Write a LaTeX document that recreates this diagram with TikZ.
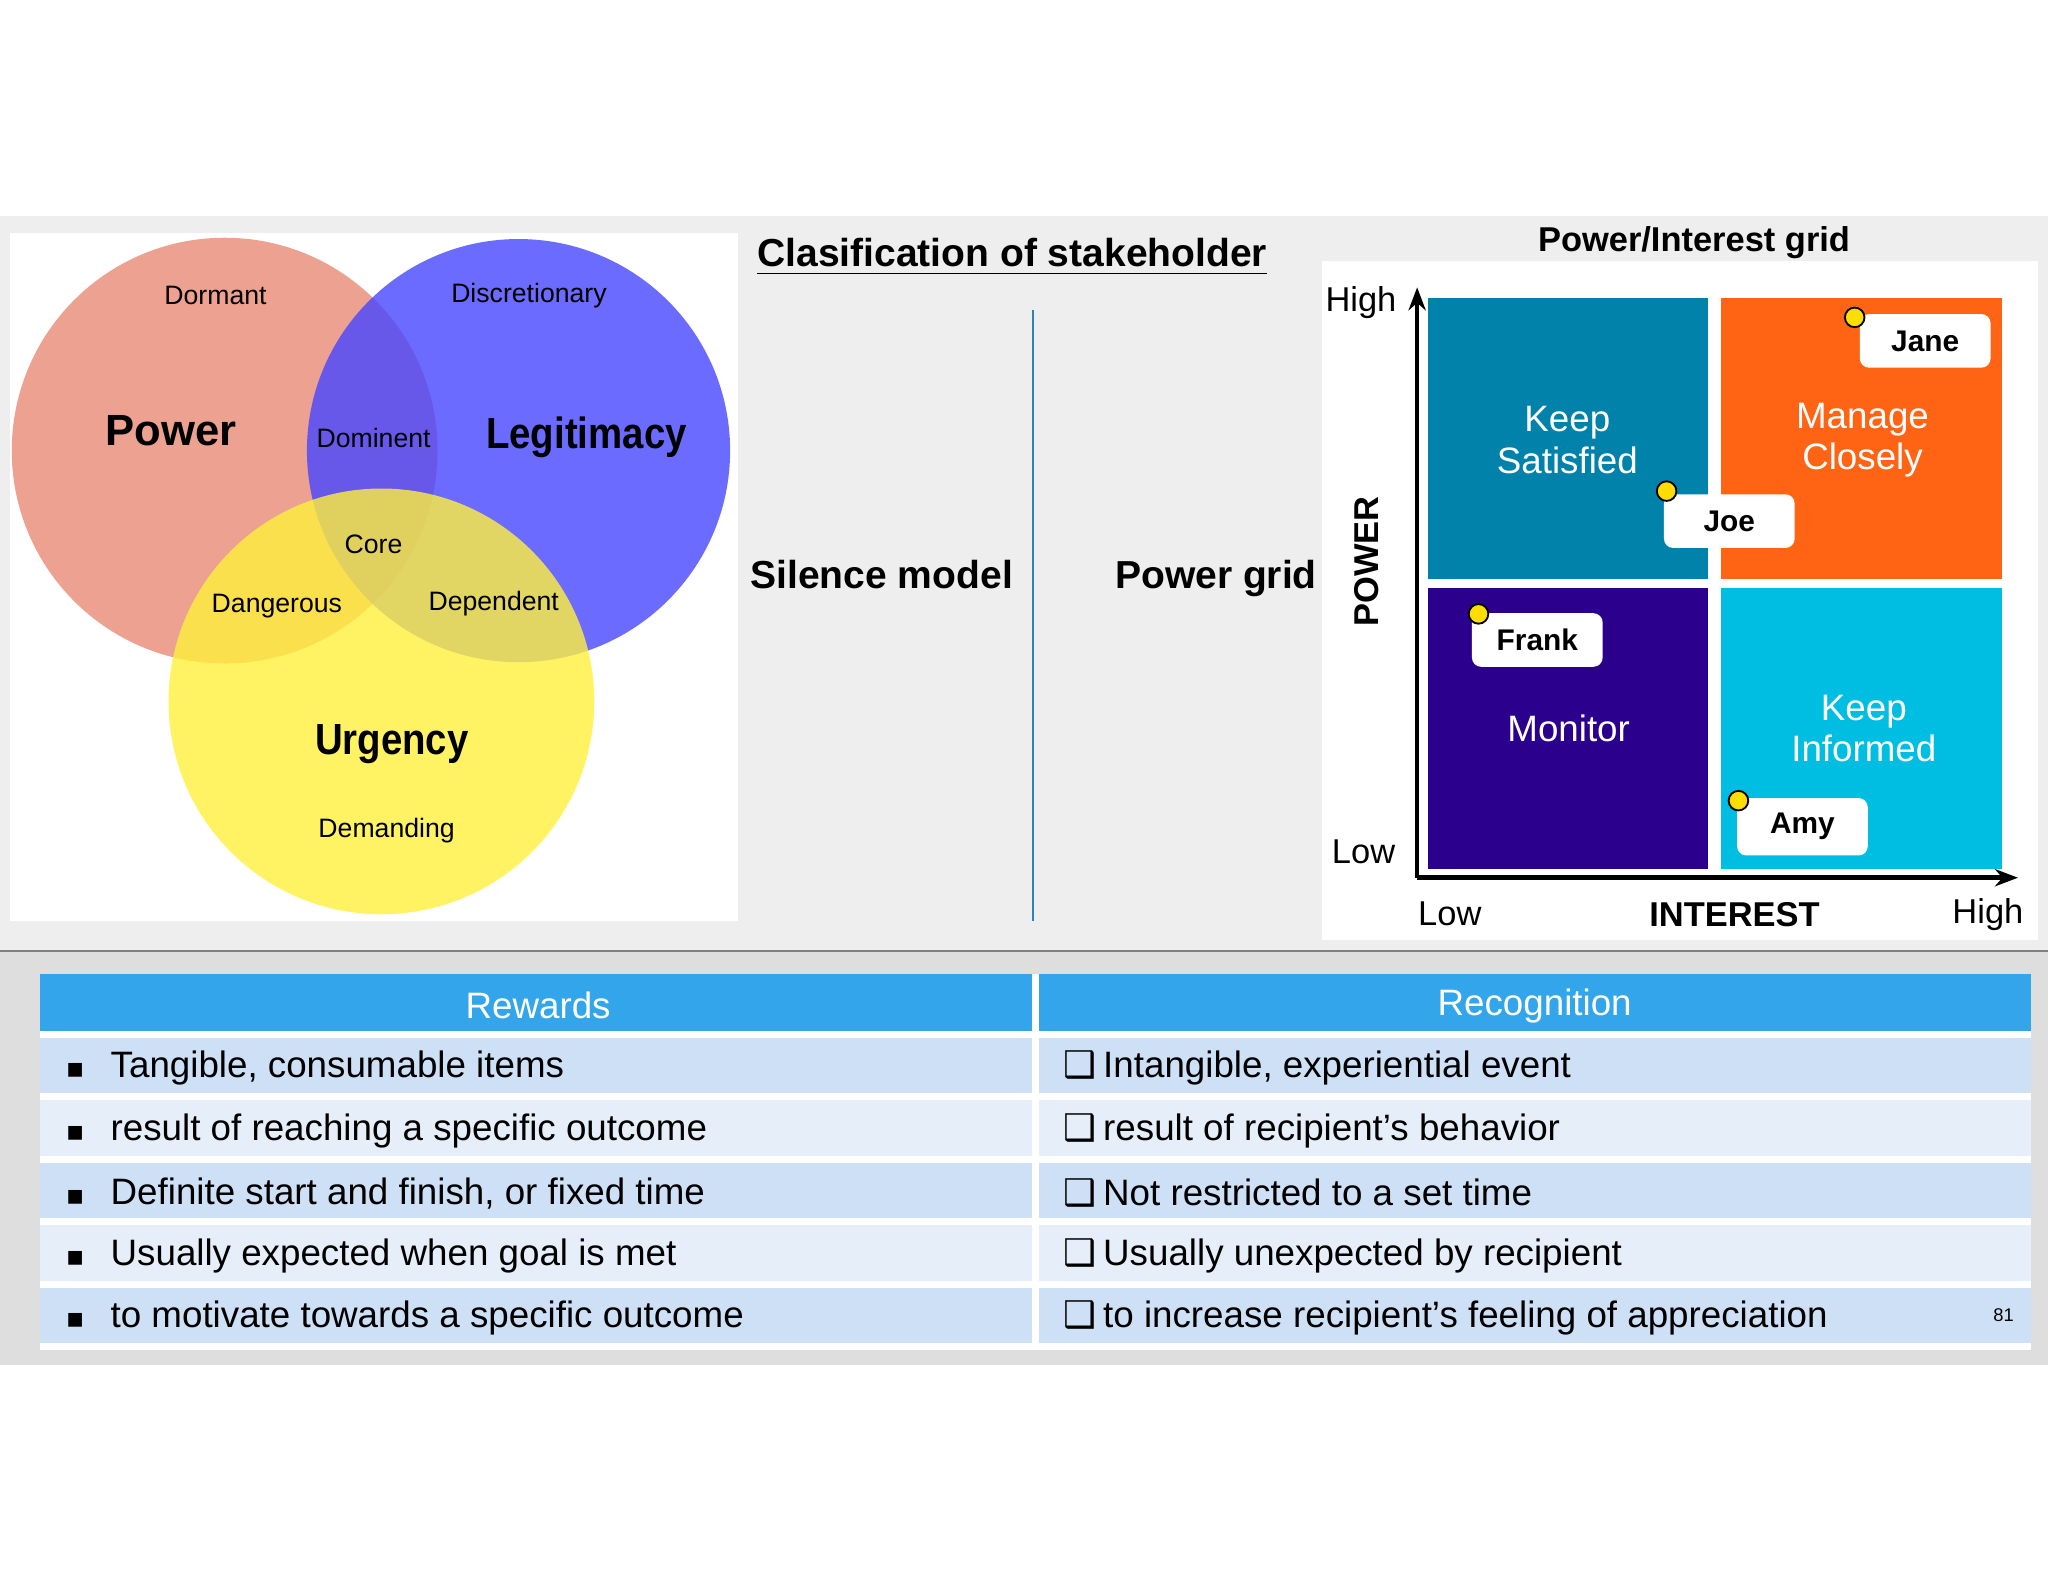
\documentclass[tikz,border=0pt]{standalone}
\usepackage{fontspec}
\setmainfont{Liberation Sans}
\newfontfamily\symfont{DejaVu Sans}
\usetikzlibrary{positioning,arrows.meta}
\definecolor{colorpower}   {RGB}{232,138,118}
\definecolor{colorlegit}   {RGB}{70 ,70 ,255}
\definecolor{colorurgent}  {RGB}{255,240,60 }
\definecolor{colorteal}    {RGB}{0  ,130,170}
\definecolor{colororange}  {RGB}{255,100,20 }
\definecolor{colorindigo}  {RGB}{42 ,0  ,140}
\definecolor{colorcyan}    {RGB}{0  ,190,225}
\definecolor{colorhead}    {RGB}{51 ,165,235}
\definecolor{colorrowa}    {RGB}{205,224,246}
\definecolor{colorrowb}    {RGB}{230,238,250}
\definecolor{colorslide}   {RGB}{222,222,222}

\begin{document}
\begin{tikzpicture}[
    x=0.01cm, y=-0.01cm,
    circ/.style={fill opacity=0.8,draw=none},
    venn/.style={font={\fontsize{5.8}{7}\selectfont}},
    big/.style={font={\fontsize{9.5}{11}\selectfont\bfseries}},
    quad/.style={text=white,align=center,font={\fontsize{8}{9}\selectfont}},
    tag/.style={fill=white,rounded corners=2pt,minimum width=1cm,minimum height=0.41cm,
        font={\fontsize{6.5}{7}\selectfont\bfseries}},
    dot/.style={circle,fill=yellow!80!orange,draw=black,inner sep=0pt,minimum size=0.15cm},
    axis/.style={font={\fontsize{7.5}{8}\selectfont}},
    cell/.style={anchor=west,font={\fontsize{8}{9}\selectfont}},
    head/.style={text=white,font={\fontsize{8}{9}\selectfont}},
]
    \useasboundingbox (0,0) rectangle (1568,1211);
    % slide background
    \fill[colorslide!50] (0,165) rectangle (1568,728);
    \fill[colorslide] (0,728) rectangle (1568,1045);
    \draw[gray] (0,728) -- (1568,728);

    % Venn of stakeholders
    \fill[white] (8,178) rectangle (565,705);
    \fill[colorpower,circ] (172,345) circle (163);
    \fill[colorlegit,circ] (397,345) circle (162);
    \fill[colorurgent,circ] (292,537) circle (163);
    \node[venn] (dormant) at (165,226) {Dormant};
    \node[venn] (discretionary) at (405,226) {Discretionary};
    \node[big] (power) at (131,330) {Power};
    \node[venn] (dominent) at (286,335) {Dominent};
    \node[big,xscale=0.88] (legitimacy) at (449,335) {Legitimacy};
    \node[venn] (core) at (286,417) {Core};
    \node[venn] (dangerous) at (212,464) {Dangerous};
    \node[venn] (dependent) at (378,462) {Dependent};
    \node[big,xscale=0.88] (urgency) at (300,570) {Urgency};
    \node[venn] (demanding) at (296,636) {Demanding};

    % middle
    \node[font={\fontsize{8.5}{9}\selectfont\bfseries}] (title) at (775,197) {\underline{Clasification of stakeholder}};
    \node[font={\fontsize{8.5}{9}\selectfont\bfseries}] (silence) at (675,440) {Silence model};
    \node[font={\fontsize{8.5}{9}\selectfont\bfseries}] (pgrid) at (931,443) {Power grid};
    \draw[colorhead!80!black,thin] (791,237) -- (791,705);

    % power/interest grid
    \fill[white] (1012,200) rectangle (1560,720);
    \fill[colorteal] (1093,228) rectangle (1308,443);
    \fill[colororange] (1318,228) rectangle (1533,443);
    \fill[colorindigo] (1093,450) rectangle (1308,665);
    \fill[colorcyan] (1318,450) rectangle (1533,665);
    \node[quad] (keepsat) at (1200,337) {Keep\\Satisfied};
    \node[quad] (manage) at (1426,337) {Manage\\Closely};
    \node[quad] (monitor) at (1201,558) {Monitor};
    \node[quad] (keepinf) at (1427,558) {Keep\\Informed};
    \coordinate (origin) at (1085,672);
    \coordinate (ytop) at (1085,220);
    \coordinate (xend) at (1545,672);
    \draw[-{Stealth[length=5pt]},line width=1pt] (origin) -- (ytop);
    \draw[-{Stealth[length=5pt]},line width=1pt] (origin) -- (xend);
    \node[font={\fontsize{7.5}{8}\selectfont\bfseries}] (gtitle) at (1297,186) {Power/Interest grid};
    \node[axis] (yhigh) at (1042,232) {High};
    \node[axis] (ylow) at (1044,652) {Low};
    \node[axis] (xlow) at (1110,700) {Low};
    \node[axis,font={\fontsize{7.5}{8}\selectfont\bfseries}] (interest) at (1328,700) {INTEREST};
    \node[axis] (xhigh) at (1522,700) {High};
    \node[axis,font={\fontsize{7.5}{8}\selectfont\bfseries},rotate=90] (powerax) at (1046,430) {POWER};
    \node[tag] (jane) at (1474,261) {Jane};
    \node[tag] (joe) at (1324,399) {Joe};
    \node[tag] (frank) at (1177,490) {Frank};
    \node[tag] (amy) at (1380,633) {Amy};
    \node[dot] at (1420,243) {};
    \node[dot] at (1276,376) {};
    \node[dot] at (1132,470) {};
    \node[dot] at (1331,613) {};

    % rewards vs recognition table
    \fill[colorhead] (31,746) rectangle (1555,792);
    \foreach \i/\c in {0/colorrowa,1/colorrowb,2/colorrowa,3/colorrowb,4/colorrowa}
        \fill[\c] (31,{792+\i*47.8}) rectangle (1555,{792+(\i+1)*47.8});
    \foreach \i in {0,...,5}
        \draw[white,line width=1.5pt] (31,{792+\i*47.8}) -- (1555,{792+\i*47.8});
    \draw[white,line width=1.5pt] (793,746) -- (793,1031);
    \node[head] (rewards) at (412,770) {Rewards};
    \node[head] (recognition) at (1175,770) {Recognition};
    \foreach \i/\left/\right in {
        0/{Tangible, consumable items}/{Intangible, experiential event},
        1/{result of reaching a specific outcome}/{result of recipient’s behavior},
        2/{Definite start and finish, or fixed time}/{Not restricted to a set time},
        3/{Usually expected when goal is met}/{Usually unexpected by recipient},
        4/{to motivate towards a specific outcome}/{to increase recipient’s feeling of appreciation}}
    {
        \node[cell] at (38,{818+\i*47.8}) {{\symfont\fontsize{6}{7}\selectfont ▪}\hspace{0.2cm}\left};
        \node[cell] at (802,{818+\i*47.8}) {{\symfont ❑}\hspace{0.05cm}\right};
    }
    \node[font={\fontsize{4}{5}\selectfont}] (pagenum) at (1534,1007) {81};
\end{tikzpicture}
\end{document}
